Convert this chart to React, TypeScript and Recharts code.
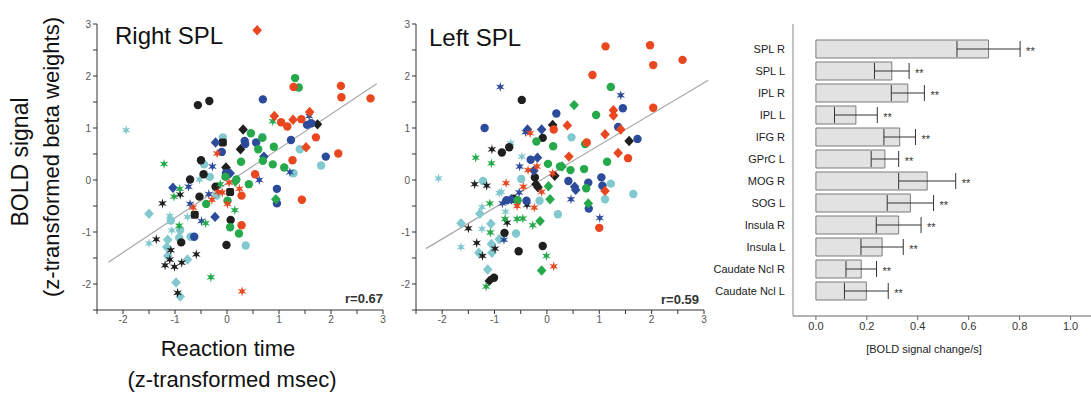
import React from 'react';
import {
  ScatterChart, Scatter, XAxis, YAxis, ReferenceLine,
  BarChart, Bar, ErrorBar, LabelList,
} from 'recharts';

// [reaction time z, BOLD z, marker] ; marker: c=circle d=diamond s=star q=square
type Pt = [number, number, string];

const rightRed: Pt[] = [
  [0.58, 2.88, 'd'], [1.28, 1.79, 'c'], [2.19, 1.81, 'c'], [2.2, 1.59, 'c'], [2.76, 1.57, 'c'],
  [0.91, 1.23, 'd'], [1.04, 1.11, 'c'], [1.16, 1.03, 'c'], [1.27, 1.16, 'd'], [1.43, 1.17, 'c'],
  [1.59, 1.31, 'd'], [1.71, 0.82, 'c'], [1.52, 0.63, 'd'], [-0.19, 0.51, 's'], [2.14, 0.51, 'c'],
  [1.26, 0.38, 'c'], [0.54, 0.11, 'c'], [0.04, -0.05, 's'], [-0.17, -0.23, 's'], [-0.09, -0.24, 's'],
  [0.24, -0.17, 's'], [0.28, -0.3, 'c'], [-0.29, -0.38, 's'], [1.44, -0.38, 'c'], [0.01, -0.46, 's'],
  [-0.65, -0.53, 's'], [0.28, -0.87, 'c'], [0.29, -2.14, 's'],
];
const rightGreen: Pt[] = [
  [1.31, 1.96, 'c'], [1.38, 1.78, 'c'], [0.88, 1.13, 's'], [0.46, 0.9, 'c'], [0.68, 0.81, 'c'],
  [0.9, 0.64, 'c'], [0.6, 0.59, 'c'], [0.27, 0.35, 'c'], [0.69, 0.37, 'c'], [0.88, 0.3, 'c'],
  [1.1, 0.24, 'c'], [-1.21, 0.31, 's'], [-0.03, 0.06, 'c'], [0.18, 0.01, 'c'], [0.16, -0.03, 'd'],
  [0.42, -0.08, 'c'], [-0.13, -0.08, 's'], [-0.91, -0.17, 's'], [-1.02, -0.32, 's'], [0.94, -0.37, 'd'],
  [-0.4, -0.46, 'c'], [0.01, -0.4, 'c'], [0.15, -0.58, 's'], [-0.41, -0.83, 's'], [-0.92, -0.88, 's'],
  [0.06, -0.91, 'c'], [0.23, -1.03, 'c'], [-0.31, -1.87, 's'],
];
const rightBlue: Pt[] = [
  [0.69, 1.55, 'c'], [1.58, 1.23, 's'], [1.54, 1.06, 'c'], [1.62, 1.09, 'c'], [-0.22, 0.72, 'd'],
  [0.34, 0.75, 'c'], [0.35, 0.69, 'c'], [0.56, 0.72, 'c'], [1.23, 0.77, 'c'], [-0.1, 0.54, 'c'],
  [0.71, 0.45, 'd'], [1.9, 0.45, 'c'], [-0.28, 0.26, 's'], [1.21, 0.15, 's'], [-0.02, 0.13, 'c'],
  [0.06, 0.13, 'd'], [0.62, 0, 's'], [-1.04, -0.15, 'd'], [-0.74, -0.13, 's'], [0.96, -0.17, 'c'],
  [-0.35, -0.27, 's'], [0.96, -0.45, 'c'], [-0.71, -0.46, 's'], [-0.23, -0.71, 'd'], [-0.49, -0.79, 's'],
  [-0.63, -1.09, 'c'],
];
const rightBlack: Pt[] = [
  [-0.56, 1.44, 'c'], [-0.34, 1.52, 'c'], [1.74, 1.07, 'd'], [0.31, 0.97, 'd'], [-0.08, 0.72, 'q'],
  [0.26, 0.59, 'd'], [-0.5, 0.38, 'c'], [-0.02, 0.24, 'd'], [-0.45, 0.11, 'c'], [-0.71, 0.01, 'c'],
  [-0.22, -0.13, 'c'], [-0.9, -0.28, 's'], [0.06, -0.23, 'q'], [-0.53, -0.32, 'c'], [-1.24, -0.45, 's'],
  [-0.62, -0.67, 'q'], [0.07, -0.77, 'c'], [-1.36, -1.14, 's'], [-0.88, -1.2, 'c'], [-1.08, -1.35, 's'],
  [-0.01, -1.25, 'c'], [-1.1, -1.53, 's'], [-0.59, -1.43, 's'], [-1.19, -1.64, 's'], [-1.01, -1.67, 's'],
  [-0.87, -1.59, 's'], [-0.95, -2.17, 's'],
];
const rightTeal: Pt[] = [
  [-1.94, 0.96, 's'], [-0.08, 0.82, 'c'], [0.68, 0.83, 'c'], [1.4, 0.59, 'c'], [-0.44, 0.3, 'c'],
  [1.28, 0.13, 'c'], [1.81, 0.28, 'c'], [-0.33, 0.06, 'c'], [-0.53, 0.01, 's'], [-0.2, -0.3, 'c'],
  [-1.5, -0.65, 'd'], [-1.1, -0.69, 's'], [-0.76, -0.71, 's'], [-1.08, -0.78, 'c'], [-0.9, -0.96, 'c'],
  [-1.06, -0.97, 's'], [-0.7, -1.09, 'c'], [-1.5, -1.22, 's'], [-1.14, -1.15, 'd'], [-0.92, -1.11, 'c'],
  [-1.16, -1.29, 'd'], [0.36, -1.26, 'c'], [-1.14, -1.46, 'd'], [-0.76, -1.53, 'd'], [-0.98, -1.97, 'd'],
  [-0.9, -2.24, 'd'],
];

const leftRed: Pt[] = [
  [1.12, 2.57, 'c'], [1.97, 2.59, 'c'], [2.03, 2.21, 'c'], [2.59, 2.31, 'c'], [0.87, 2.02, 'c'],
  [2.03, 1.39, 'c'], [1.27, 1.34, 'd'], [1.27, 1.24, 'd'], [0.39, 1.05, 'd'], [0.13, 0.97, 'c'],
  [-0.32, 0.9, 's'], [1.41, 0.97, 'd'], [1.11, 0.88, 'd'], [0.76, 0.72, 'c'], [-0.36, 0.19, 's'],
  [-0.19, 0.26, 's'], [0.42, 0.45, 'd'], [1.36, 0.52, 'd'], [1.55, 0.42, 'c'], [-0.78, -0.06, 's'],
  [-0.45, -0.13, 's'], [-0.1, -0.23, 's'], [0.11, 0.13, 's'], [1.11, -0.21, 'd'], [-0.57, -0.5, 's'],
  [-0.24, -0.53, 's'], [1.0, -0.92, 'c'], [0.13, -1.66, 's'],
];
const leftGreen: Pt[] = [
  [1.22, 1.79, 'c'], [0.52, 1.44, 'd'], [0.94, 1.25, 'c'], [-0.2, 0.74, 'c'], [0.73, 0.69, 'c'],
  [0.12, 0.65, 'c'], [-1.36, 0.43, 's'], [-1.06, 0.32, 's'], [0.02, 0.31, 'c'], [0.25, 0.26, 'c'],
  [0.29, 0.26, 'd'], [0.45, 0.19, 'c'], [0.71, 0.21, 'c'], [1.15, 0.35, 'c'], [0.03, -0.12, 'd'],
  [0.75, -0.16, 'c'], [0.79, -0.45, 'd'], [0.06, -0.37, 'd'], [-0.56, -0.39, 'c'], [-1.09, -0.45, 's'],
  [-1.08, -1.01, 's'], [-0.8, -0.75, 's'], [-0.57, -0.75, 's'], [-0.46, -0.74, 's'], [-0.27, -0.87, 's'],
  [-0.13, -0.79, 'd'], [-0.01, -1.46, 's'], [-0.1, -1.74, 'd'], [-1.16, -2.05, 's'],
];
const leftBlue: Pt[] = [
  [-0.89, 1.79, 's'], [1.41, 1.63, 's'], [1.45, 1.38, 'c'], [-1.19, 1.0, 'c'], [0.18, 1.28, 'c'],
  [-0.1, 0.97, 'd'], [-0.37, 0.97, 'd'], [-0.41, 0.92, 's'], [1.36, 1.02, 'c'], [1.73, 0.79, 'c'],
  [-0.31, 0.39, 'c'], [-0.18, 0.43, 'd'], [-0.52, 0.26, 's'], [-0.25, 0.18, 'd'], [-0.53, -0.24, 's'],
  [0.41, -0.02, 'c'], [0.53, -0.13, 'd'], [0.55, -0.19, 'd'], [0.79, -0.05, 'c'], [1.04, 0.05, 'c'],
  [1.06, -0.11, 'c'], [0.8, -0.55, 'c'], [0.46, -0.37, 's'], [-0.39, -0.4, 'c'], [-0.68, -0.37, 'd'],
  [-0.77, -0.39, 'c'], [-0.85, -0.45, 's'], [-0.82, -1.15, 's'], [1.01, -0.73, 's'],
];
const leftBlack: Pt[] = [
  [-0.48, 1.54, 'c'], [0.11, 1.06, 'd'], [-0.08, 0.81, 'c'], [1.57, 0.75, 'd'], [-1.05, 0.59, 's'],
  [-0.86, 0.53, 'c'], [-0.72, 0.63, 'c'], [-1.38, -0.08, 's'], [-1.15, -0.11, 's'], [-0.23, 0.05, 'c'],
  [-0.21, -0.08, 'd'], [-0.17, -0.14, 'd'], [0.15, 0.08, 'd'], [-0.38, -0.48, 's'], [-0.64, -0.36, 'c'],
  [-1.5, -0.93, 's'], [-0.76, -0.82, 's'], [-0.81, -1.02, 'c'], [-1.34, -1.21, 's'], [-0.99, -1.32, 's'],
  [-1.23, -1.46, 's'], [-0.54, -1.37, 'c'], [-0.08, -1.27, 'c'], [-1.01, -1.88, 'c'], [-1.1, -1.94, 'd'],
];
const leftTeal: Pt[] = [
  [0.47, 0.82, 'c'], [-0.69, 0.71, 's'], [-0.48, 0.45, 's'], [-2.07, 0.03, 's'], [-1.22, -0.02, 'c'],
  [-0.87, -0.23, 's'], [-0.91, -0.25, 's'], [-0.49, 0.02, 'c'], [1.22, -0.07, 'c'], [1.65, -0.27, 'c'],
  [1.11, -0.37, 'c'], [-0.14, -0.4, 'c'], [-0.79, -0.61, 's'], [0.21, -0.66, 'c'], [-1.24, -0.52, 's'],
  [-1.28, -0.65, 'd'], [-1.64, -0.83, 'd'], [-1.07, -0.84, 'd'], [-1.24, -0.94, 's'], [-0.59, -1.03, 'c'],
  [-0.91, -1.14, 'd'], [-1.64, -1.29, 's'], [-1.06, -1.23, 'd'], [-1.3, -1.4, 'd'], [-1.05, -1.4, 'd'],
  [-1.13, -1.72, 'd'],
];

// regression line end points
const rightFit = [{ x: -2.28, y: -1.58 }, { x: 2.88, y: 1.85 }];
const leftFit = [{ x: -2.31, y: -1.32 }, { x: 3.08, y: 1.92 }];

const zTicks = [-2.5, -2, -1.5, -1, -0.5, 0, 0.5, 1, 1.5, 2, 2.5, 3];

const regions = ['SPL R', 'SPL L', 'IPL R', 'IPL L', 'IFG R', 'GPrC L', 'MOG R', 'SOG L',
  'Insula R', 'Insula L', 'Caudate Ncl R', 'Caudate Ncl L'];
const signalChange = [0.678, 0.298, 0.361, 0.157, 0.329, 0.271, 0.437, 0.371, 0.325, 0.26, 0.178, 0.198];
const signalErr = [0.124, 0.068, 0.065, 0.084, 0.062, 0.054, 0.112, 0.091, 0.088, 0.083, 0.06, 0.086];
const barTicks = [0, 0.2, 0.4, 0.6, 0.8, 1.0];

const COLORS = { red: '#e8471f', green: '#25a94b', blue: '#2c4b9b', black: '#1f1f1f', teal: '#82c8cf' };
const FONT = "'Liberation Sans', Arial, Helvetica, sans-serif";

const barData = regions.map((name, i) => ({ name, v: signalChange[i], err: signalErr[i] }));
const toRows = (pts: Pt[]) => pts.map(([x, y, m]) => ({ x, y, m }));

function starPoints(cx: number, cy: number) {
  const out: string[] = [];
  for (let i = 0; i < 12; i++) {
    const r = i % 2 === 0 ? 5 : 1.9;
    const a = (Math.PI / 6) * i - Math.PI / 2;
    out.push((cx + r * Math.cos(a)).toFixed(2) + ',' + (cy + r * Math.sin(a)).toFixed(2));
  }
  return out.join(' ');
}

const Marker = (props: any) => {
  const { cx, cy, fill, payload } = props;
  if (cx == null || cy == null) return <g />;
  const m = payload && payload.m;
  if (m === 'd') {
    const pts = `${cx},${cy - 5.2} ${cx + 4.8},${cy} ${cx},${cy + 5.2} ${cx - 4.8},${cy}`;
    return <polygon points={pts} fill={fill} />;
  }
  if (m === 's') return <polygon points={starPoints(cx, cy)} fill={fill} />;
  if (m === 'q') return <rect x={cx - 4} y={cy - 4} width={8} height={8} rx={2} fill={fill} />;
  return <circle cx={cx} cy={cy} r={4.2} fill={fill} />;
};

type PanelProps = {
  left: number; width: number; marginLeft: number; marginRight: number;
  groups: [Pt[], string][];
  fit: { x: number; y: number }[];
};

const Panel = ({ left, width, marginLeft, marginRight, groups, fit }: PanelProps) => (
  <div style={{ position: 'absolute', left, top: 0 }}>
    <ScatterChart width={width} height={394}
      margin={{ top: 24, right: marginRight, bottom: 54, left: marginLeft }}>
      <XAxis type="number" dataKey="x" domain={[-2.5, 3]} ticks={zTicks} allowDataOverflow
        tickFormatter={(v: number) => (Number.isInteger(v) ? String(v) : '')}
        height={30} tickSize={4} stroke="#333" interval={0}
        tick={{ fontSize: 10, fill: '#555' }} />
      <YAxis type="number" dataKey="y" domain={[-2.5, 3]} ticks={zTicks} allowDataOverflow
        tickFormatter={(v: number) => (Number.isInteger(v) ? String(v) : '')}
        width={30} tickSize={4} stroke="#333" interval={0}
        tick={{ fontSize: 10, fill: '#555' }} />
      <ReferenceLine segment={fit} stroke="#a8a8a8" strokeWidth={1.2} ifOverflow="visible" />
      {groups.map(([pts, color], i) => (
        <Scatter key={i} data={toRows(pts)} fill={color} shape={Marker} isAnimationActive={false} />
      ))}
    </ScatterChart>
  </div>
);

const RegionTick = (props: any) => {
  const { x, y, payload } = props;
  return (
    <text x={x} y={y} dy={4} textAnchor="end" fontSize={11} fill="#222">{payload.value}</text>
  );
};

const Stars = (props: any) => {
  const { x, y, width, height, index } = props;
  const d = barData[index];
  if (!d || !width) return null;
  const ex = Number(x) + Number(width) * (d.v + d.err) / d.v;
  return <text x={ex + 6} y={Number(y) + Number(height) / 2 + 6} fontSize={11} fill="#333">**</text>;
};

export default function App() {
  return (
    <div style={{ position: 'absolute', left: 0, top: 0, width: 1091, height: 394, overflow: 'hidden', background: '#fff', fontFamily: FONT }}>
      <Panel left={0} width={400} marginLeft={67} marginRight={17} fit={rightFit}
        groups={[[rightTeal, COLORS.teal], [rightBlack, COLORS.black], [rightBlue, COLORS.blue], [rightGreen, COLORS.green], [rightRed, COLORS.red]]} />
      <Panel left={380} width={340} marginLeft={6} marginRight={16} fit={leftFit}
        groups={[[leftTeal, COLORS.teal], [leftBlack, COLORS.black], [leftBlue, COLORS.blue], [leftGreen, COLORS.green], [leftRed, COLORS.red]]} />

      <div style={{ position: 'absolute', left: 700, top: 0 }}>
        <BarChart layout="vertical" width={400} height={394} data={barData}
          margin={{ top: 24, right: 4, bottom: 33, left: 0 }} barSize={18}>
          <XAxis type="number" domain={[-0.09, 1.1]} ticks={barTicks} allowDataOverflow
            tickFormatter={(v: number) => v.toFixed(1)} height={45} tickSize={4}
            stroke="#666" tick={{ fontSize: 11, fill: '#333' }} />
          <XAxis xAxisId="top" orientation="top" type="number" domain={[-0.09, 1.1]}
            tick={false} tickLine={false} height={0} stroke="#222" />
          <YAxis type="category" dataKey="name" width={93} tickLine={false} interval={0}
            stroke="#888" padding={{ top: 14, bottom: 14 }} tick={RegionTick} />
          <Bar dataKey="v" fill="#e2e2e2" stroke="#7a7a7a" strokeWidth={1} isAnimationActive={false}>
            <ErrorBar dataKey="err" direction="x" width={8} stroke="#333" strokeWidth={1} />
            <LabelList dataKey="v" content={Stars} />
          </Bar>
        </BarChart>
      </div>

      <svg width={1091} height={394} style={{ position: 'absolute', left: 0, top: 0, pointerEvents: 'none' }}>
        <text x={115} y={44} fontSize={24} fill="#111">Right SPL</text>
        <text x={429} y={46} fontSize={24} fill="#111">Left SPL</text>
        <text x={383} y={303} fontSize={13} fontWeight="bold" fill="#333" textAnchor="end">r=0.67</text>
        <text x={699} y={304} fontSize={13} fontWeight="bold" fill="#333" textAnchor="end">r=0.59</text>
        <text transform="translate(28,162) rotate(-90)" fontSize={23} fill="#111" textAnchor="middle">BOLD signal</text>
        <text transform="translate(59,157) rotate(-90)" fontSize={22} fill="#111" textAnchor="middle">(z-transformed beta weights)</text>
        <text x={228} y={356} fontSize={22} fill="#111" textAnchor="middle">Reaction time</text>
        <text x={232} y={387} fontSize={22} fill="#111" textAnchor="middle">(z-transformed msec)</text>
        <text x={924} y={353} fontSize={11} fill="#222" textAnchor="middle">[BOLD signal change/s]</text>
      </svg>
    </div>
  );
}
